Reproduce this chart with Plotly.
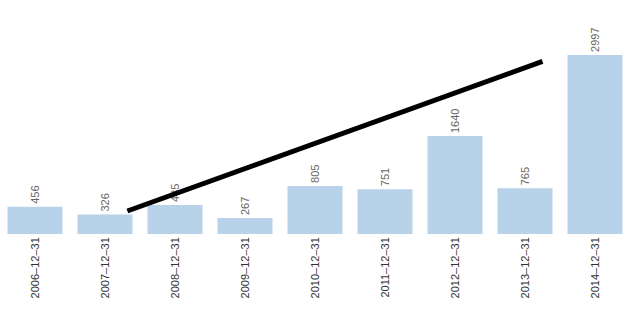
import plotly.graph_objects as go

categories = ["2006–12–31", "2007–12–31", "2008–12–31", "2009–12–31", "2010–12–31",
              "2011–12–31", "2012–12–31", "2013–12–31", "2014–12–31"]
values = [456, 326, 485, 267, 805, 751, 1640, 765, 2997]
line_x = [1.32, 7.25]
line_y = [385, 2890]

positions = list(range(len(categories)))

fig = go.Figure()
fig.add_trace(go.Bar(
    x=positions, y=values, text=[str(v) for v in values],
    textposition="outside", textangle=-90, cliponaxis=False,
    textfont=dict(family="Liberation Sans, Arial", size=11, color="#666666"),
    marker=dict(color="#b8d2ea", line=dict(width=0)),
    width=0.786, showlegend=False, hoverinfo="skip",
))
fig.add_trace(go.Scatter(
    x=line_x, y=line_y, mode="lines",
    line=dict(color="black", width=5), showlegend=False, hoverinfo="skip",
))
fig.update_layout(
    width=635, height=311, margin=dict(l=0, r=5, t=10, b=77),
    paper_bgcolor="white", plot_bgcolor="white",
    xaxis=dict(tickmode="array", tickvals=positions, ticktext=categories,
               range=[-0.5, 8.5], tickangle=-90, showgrid=False, zeroline=False,
               showline=False, ticks="", ticklen=0,
               tickfont=dict(family="Liberation Sans, Arial", size=11, color="#333333")),
    yaxis=dict(range=[0, 3750], visible=False, showgrid=False, zeroline=False),
)
fig.write_html("out.html")
